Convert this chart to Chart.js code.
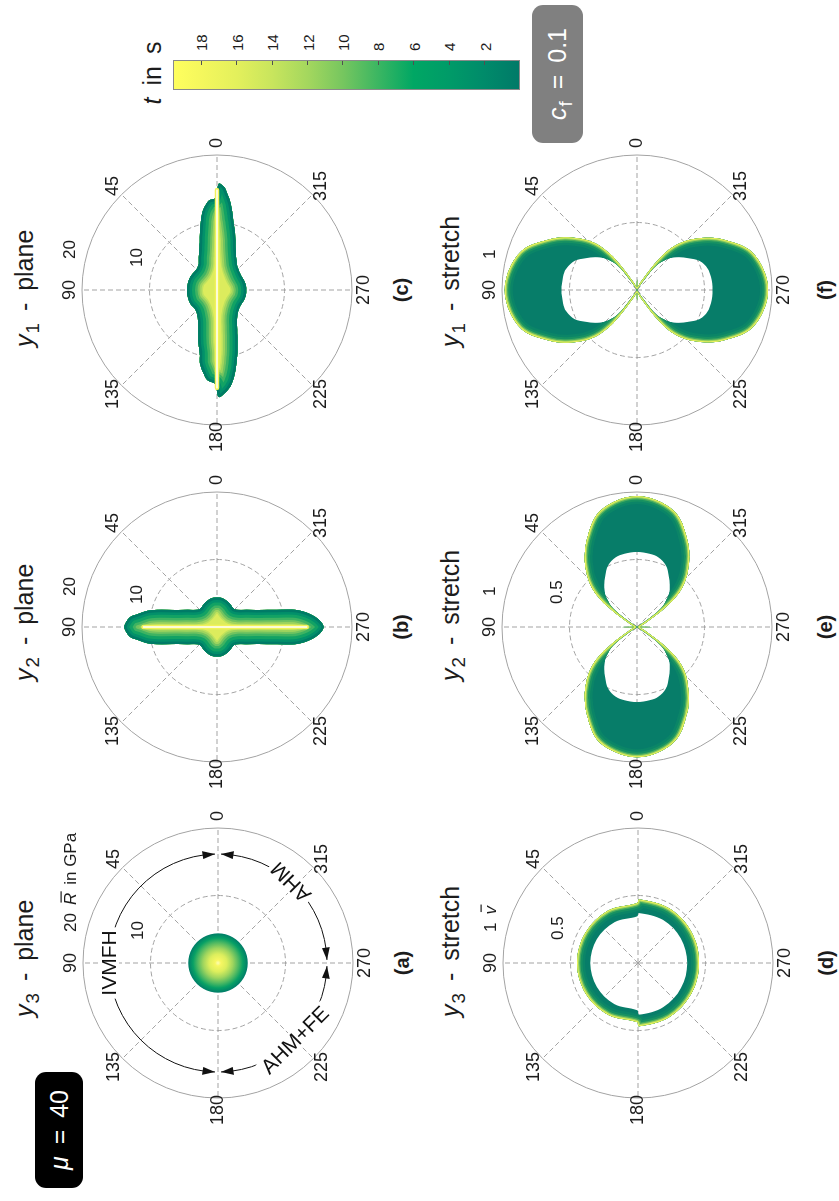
<!DOCTYPE html>
<html lang="en">
<head>
<meta charset="utf-8">
<title>Polar plots of R and v, μ = 40</title>
<script src="https://cdn.jsdelivr.net/npm/chart.js@4.4.1/dist/chart.umd.min.js"></script>
<style>
  html, body { margin: 0; padding: 0; background: #fff; }
  body { width: 839px; height: 1201px; overflow: hidden; position: relative; }
  #fig { position: absolute; left: 0; top: 0; width: 1201px; height: 839px;
         transform-origin: 0 0; transform: translate(0, 1201px) rotate(-90deg);
         font-family: "Liberation Sans", Arial, Helvetica, sans-serif; color: #1c1c1c; }
  .panel { position: absolute; width: 330px; height: 330px; }
  .panel canvas { display: block; }
  .title { position: absolute; font-size: 25px; line-height: 1; white-space: nowrap; word-spacing: 0.2em; }
  sub { font-size: 0.75em; line-height: 0; vertical-align: -0.3em; margin-left: 1px; }
  .tag { position: absolute; font-size: 20px; font-weight: bold; line-height: 1;
         transform: translate(-50%, -50%); white-space: nowrap; }
  .box { position: absolute; border-radius: 11px; color: #fff; font-size: 25px; line-height: 1;
         word-spacing: 0.2em; display: flex; align-items: center; justify-content: center; white-space: nowrap; }
  #cbar { position: absolute; box-sizing: border-box; border: 1px solid #8a8a8a; }
  .ctick { position: absolute; right: 0; width: 4px; height: 1px; background: #505050; }
  .clab { position: absolute; font-size: 15px; line-height: 1; transform: translateY(-50%); }
  #clabel { position: absolute; font-size: 25px; line-height: 1; word-spacing: 0.2em;
            transform: translate(-50%, -50%); white-space: nowrap; }
</style>
</head>
<body>
<div id="fig">
  <div class="box" style="left:13px;top:35px;width:116px;height:48px;background:#000;"><span><i>μ</i> = 40</span></div>
  <div class="box" style="left:1058px;top:532px;width:138px;height:51px;background:#808080;"><span><i>c</i><sub>f</sub> = 0.1</span></div>

  <div class="title" style="left:184px;top:12px;"><i>y</i><sub>3</sub> - plane</div>
  <div class="title" style="left:520px;top:12px;"><i>y</i><sub>2</sub> - plane</div>
  <div class="title" style="left:854px;top:12px;"><i>y</i><sub>1</sub> - plane</div>
  <div class="title" style="left:184px;top:438px;"><i>y</i><sub>3</sub> - stretch</div>
  <div class="title" style="left:520px;top:438px;"><i>y</i><sub>2</sub> - stretch</div>
  <div class="title" style="left:854px;top:438px;"><i>y</i><sub>1</sub> - stretch</div>

  <div class="panel" style="left:73px;top:53px;"><canvas id="pa" width="330" height="330"></canvas></div>
  <div class="panel" style="left:409px;top:52px;"><canvas id="pb" width="330" height="330"></canvas></div>
  <div class="panel" style="left:746px;top:52px;"><canvas id="pc" width="330" height="330"></canvas></div>
  <div class="panel" style="left:73px;top:473px;"><canvas id="pd" width="330" height="330"></canvas></div>
  <div class="panel" style="left:409px;top:472px;"><canvas id="pe" width="330" height="330"></canvas></div>
  <div class="panel" style="left:746px;top:472px;"><canvas id="pf" width="330" height="330"></canvas></div>

  <div class="tag" style="left:238px;top:402px;">(a)</div>
  <div class="tag" style="left:574px;top:401px;">(b)</div>
  <div class="tag" style="left:911px;top:401px;">(c)</div>
  <div class="tag" style="left:238px;top:826px;">(d)</div>
  <div class="tag" style="left:574px;top:825px;">(e)</div>
  <div class="tag" style="left:911px;top:825px;">(f)</div>

  <div id="clabel" style="left:1128px;top:152px;"><i>t</i> in s</div>
  <div id="cbar" style="left:1111px;top:173px;width:30px;height:347px;"></div>
</div>

<script>
// ---------- axes ----------
const angleTicks = [0, 45, 90, 135, 180, 225, 270, 315];   // degrees
const planeRings = [10, 20];                                 // R in GPa
const stretchRings = [0.5, 1];                               // v
const angleLabels = Array.from({ length: 360 }, (_, i) => String((360 - i) % 360));

// ---------- colour bar (t in s) ----------
const tMax = 19.6;
const tTicks = [2, 4, 6, 8, 10, 12, 14, 16, 18];
const tStops = [[0, '#007a68'], [2, '#008b6a'], [4, '#009b68'], [6, '#00a764'], [8, '#3bb662'],
                [10, '#76c65f'], [12, '#a4d75e'], [14, '#c8e55d'], [16, '#e3f05c'], [18, '#f4f75d'],
                [19.6, '#ffff5e']];

// ---------- curves: [angle in degrees, radius] ----------
// (a) y3 - plane, R in GPa
const y3PlaneEdge = [[0, 4.4], [30, 4.4], [60, 4.4], [90, 4.4], [120, 4.4], [150, 4.4],
                     [180, 4.4], [210, 4.4], [240, 4.4], [270, 4.4], [300, 4.4], [330, 4.4]];

// (b) y2 - plane
const y2PlaneEdge = [[0, 4.37], [10, 4.36], [21, 4.13], [30, 3.9], [43, 3.67], [52, 4.12], [60, 5.11],
  [67, 6.44], [71, 7.82], [74, 9.24], [77, 10.64], [81, 12.0], [83, 12.83], [86, 13.36], [90, 13.73],
  [94, 13.36], [97, 12.83], [99, 12.0], [103, 10.64], [106, 9.24], [109, 7.82], [113, 6.44],
  [120, 5.11], [128, 4.12], [137, 3.67], [150, 3.9], [159, 4.13], [170, 4.36], [180, 4.37],
  [190, 4.36], [201, 4.13], [210, 3.9], [223, 3.67], [232, 4.12], [240, 5.11], [247, 6.44],
  [251, 7.82], [254, 9.24], [256, 10.67], [258, 12.1], [261, 13.5], [264, 14.6], [267, 15.4],
  [270, 15.8], [273, 15.4], [276, 14.6], [279, 13.5], [282, 12.1], [284, 10.67], [286, 9.24],
  [289, 7.82], [293, 6.44], [300, 5.11], [308, 4.12], [317, 3.67], [330, 3.9], [339, 4.13], [350, 4.36]];
const y2PlaneCore = [[90, 10.9], [270, 13.3]];

// (c) y1 - plane
const y1PlaneEdge = [[1, 13.67], [5, 13.35], [7, 12.89], [10, 11.99], [13, 10.6], [18, 8.26], [22, 6.88],
  [29, 5.57], [35, 4.73], [42, 4.36], [47, 4.3], [64, 4.4], [78, 4.44], [90, 4.44], [103, 4.46],
  [117, 4.45], [134, 4.36], [148, 5.3], [156, 6.8], [161, 8.4], [165, 9.83], [167, 11.2], [171, 12.57],
  [174, 13.44], [179, 13.97], [181, 15.85], [185, 15.17], [189, 14.04], [193, 12.21], [197, 10.2],
  [201, 8.5], [207, 6.62], [217, 4.98], [233, 4.2], [253, 4.3], [270, 4.34], [286, 4.27], [305, 4.21],
  [323, 4.89], [335, 6.56], [341, 8.31], [347, 10.62], [351, 12.95], [354, 14.36], [356, 15.29],
  [359, 15.75]];
const y1PlaneCore = [[0, 14.8], [180, 14.5]];

// (d) y3 - stretch, v
const y3StretchOuter = [[1, 0.444], [30, 0.447], [60, 0.45], [90, 0.452], [120, 0.449], [150, 0.443],
  [179, 0.438], [181, 0.469], [210, 0.463], [240, 0.455], [270, 0.452], [300, 0.457], [330, 0.466],
  [359, 0.472]];
const y3StretchInner = [[1, 0.346], [30, 0.349], [60, 0.352], [90, 0.353], [120, 0.352], [150, 0.351],
  [179, 0.35], [181, 0.383], [210, 0.376], [240, 0.368], [270, 0.365], [300, 0.366], [330, 0.369],
  [359, 0.37]];

// (e) y2 - stretch
const y2StretchOuter = [[0, 0.97], [10, 0.945], [20, 0.88], [30, 0.745], [36, 0.66], [42, 0.565],
  [46, 0.5], [50, 0.42], [53, 0.34], [55, 0.27], [57, 0.2], [59, 0.14], [62, 0.09], [66, 0.06],
  [72, 0.035], [80, 0.02], [86, 0.03], [90, 0.11], [94, 0.03], [100, 0.02], [108, 0.035], [114, 0.06],
  [118, 0.09], [121, 0.14], [123, 0.2], [125, 0.27], [127, 0.34], [130, 0.42], [134, 0.5], [138, 0.565],
  [144, 0.66], [150, 0.745], [160, 0.88], [170, 0.94], [180, 0.965], [190, 0.94], [200, 0.875],
  [210, 0.74], [216, 0.655], [222, 0.56], [226, 0.5], [230, 0.42], [233, 0.34], [235, 0.27],
  [237, 0.2], [239, 0.14], [242, 0.09], [246, 0.06], [252, 0.035], [260, 0.02], [266, 0.03],
  [270, 0.11], [274, 0.03], [280, 0.02], [288, 0.035], [294, 0.06], [298, 0.09], [301, 0.14],
  [303, 0.2], [305, 0.27], [307, 0.34], [310, 0.42], [314, 0.5], [318, 0.565], [324, 0.66],
  [330, 0.745], [340, 0.88], [350, 0.945]];
const y2StretchInner = [[0, 0.556], [10, 0.55], [17, 0.54], [25, 0.505], [32, 0.445], [38, 0.395],
  [44, 0.34], [48, 0.29], [51, 0.25], [53, 0.2], [54, 0.15], [55, 0.09], [56, 0.03], [58, 0], [90, 0],
  [122, 0], [124, 0.03], [125, 0.09], [126, 0.15], [127, 0.2], [129, 0.25], [132, 0.29], [136, 0.34],
  [142, 0.395], [148, 0.445], [155, 0.505], [163, 0.54], [170, 0.55], [180, 0.556], [190, 0.55],
  [197, 0.54], [205, 0.505], [212, 0.445], [218, 0.395], [224, 0.34], [228, 0.29], [231, 0.25],
  [233, 0.2], [234, 0.15], [235, 0.09], [236, 0.03], [238, 0], [270, 0], [302, 0], [304, 0.03],
  [305, 0.09], [306, 0.15], [307, 0.2], [309, 0.25], [312, 0.29], [316, 0.34], [322, 0.395],
  [328, 0.445], [335, 0.505], [343, 0.54], [350, 0.55]];

// (f) y1 - stretch
const y1StretchOuter = [[0, 0.11], [4, 0.03], [10, 0.02], [18, 0.035], [24, 0.06], [28, 0.09],
  [31, 0.14], [33, 0.2], [35, 0.27], [37, 0.34], [40, 0.425], [44, 0.505], [48, 0.57], [54, 0.665],
  [60, 0.75], [70, 0.89], [80, 0.955], [90, 0.98], [100, 0.955], [110, 0.89], [120, 0.75], [126, 0.665],
  [132, 0.57], [136, 0.505], [140, 0.425], [143, 0.34], [145, 0.27], [147, 0.2], [149, 0.14],
  [152, 0.09], [156, 0.06], [162, 0.035], [170, 0.02], [176, 0.03], [180, 0.11], [184, 0.03],
  [190, 0.02], [198, 0.035], [204, 0.06], [208, 0.09], [211, 0.14], [213, 0.2], [215, 0.27],
  [217, 0.34], [220, 0.42], [224, 0.5], [228, 0.565], [234, 0.66], [240, 0.745], [250, 0.88],
  [260, 0.945], [270, 0.97], [280, 0.945], [290, 0.88], [300, 0.745], [306, 0.66], [312, 0.565],
  [316, 0.5], [320, 0.42], [323, 0.34], [325, 0.27], [327, 0.2], [329, 0.14], [332, 0.09],
  [336, 0.06], [342, 0.035], [350, 0.02], [356, 0.03]];
const y1StretchInner = [[0, 0], [32, 0], [34, 0.03], [35, 0.09], [36, 0.15], [37, 0.2], [39, 0.25],
  [42, 0.29], [46, 0.34], [52, 0.395], [58, 0.445], [65, 0.51], [73, 0.547], [80, 0.556], [90, 0.56],
  [100, 0.556], [107, 0.547], [115, 0.51], [122, 0.445], [128, 0.395], [134, 0.34], [138, 0.29],
  [141, 0.25], [143, 0.2], [144, 0.15], [145, 0.09], [146, 0.03], [148, 0], [180, 0], [212, 0],
  [214, 0.03], [215, 0.09], [216, 0.15], [217, 0.2], [219, 0.25], [222, 0.29], [226, 0.34],
  [232, 0.395], [238, 0.445], [245, 0.51], [253, 0.547], [260, 0.556], [270, 0.56], [280, 0.556],
  [287, 0.547], [295, 0.51], [302, 0.445], [308, 0.395], [314, 0.34], [318, 0.29], [321, 0.25],
  [323, 0.2], [324, 0.15], [325, 0.09], [326, 0.03], [328, 0]];

// (a) phase annotations
const phaseArcs = [[1.6, 178.4], [181.6, 268.4], [271.6, 358.4]];
const arrowTips = [[1.6, 1], [178.4, -1], [181.6, 1], [268.4, -1], [271.6, 1], [358.4, -1]];
const phaseNames = [['IVMFH', 90, 0], ['AHM+FE', 225, 45], ['AHM', 318, -45]];

// ---------- styling ----------
const FONT = '"Liberation Sans", Arial, sans-serif';
const INK = '#1c1c1c';
const GRID = '#a3a3a3';
const TENSION = 0.35;
// [distance from the edge in px, colour]: colour bands laid inward from the outline
const planeBands = [[16, '#bfe25d'], [14.5, '#9fd45e'], [12.5, '#72c360'], [10.5, '#3fb362'],
                    [8, '#12a264'], [5, '#02906a'], [2.5, '#007b66']];
const planeFill = '#dcec5d';
const stretchRim = [[8, '#0b8567'], [5.5, '#179162'], [3.5, '#45aa5f'], [2.2, '#9bd15d'], [1.1, '#e9f15c']];
const stretchFill = '#077d69';

Chart.defaults.font.family = FONT;

// radar index k sits at (360 - k) degrees when the scale starts at 90
function polar(pairs) {
  const arr = new Array(360).fill(null);
  for (const [a, r] of pairs) arr[(360 - a) % 360] = r;
  return arr;
}

// clip band strokes to the inside of a filled outline (or of a ring)
const bandClip = {
  id: 'bandClip',
  beforeDatasetDraw(chart, args) {
    const ds = chart.data.datasets[args.index];
    if (!ds.clipTo) return;
    const ctx = chart.ctx;
    ctx.save();
    ctx.beginPath();
    ds.clipTo.forEach(i => chart.getDatasetMeta(i).dataset.path(ctx));
    ctx.clip(ds.clipTo.length > 1 ? 'evenodd' : 'nonzero');
  },
  afterDatasetDraw(chart, args) {
    if (chart.data.datasets[args.index].clipTo) chart.ctx.restore();
  }
};

// angle labels and ring labels
function ringText(outerParts) {
  return {
    id: 'ringText',
    beforeDatasetsDraw(chart) {
      const s = chart.scales.r, ctx = chart.ctx;
      const rings = s.ticks.map(t => t.value).filter(v => v > 0);
      ctx.save();
      ctx.fillStyle = INK;
      ctx.textBaseline = 'middle';
      ctx.textAlign = 'center';
      ctx.font = '18px ' + FONT;
      for (const a of angleTicks) {
        const p = s.getPointPosition((360 - a) % 360, 147);
        ctx.fillText(String(a), p.x, p.y);
      }
      ctx.textAlign = 'left';
      rings.forEach((v, i) => {
        const outer = i === rings.length - 1;
        const y = s.yCenter - s.getDistanceFromCenterForValue(v) - 12;
        let x = s.xCenter + (outer ? 31 : 23);
        const parts = outer && outerParts ? outerParts(String(v)) : [{ t: String(v) }];
        for (const p of parts) {
          ctx.font = (p.it ? 'italic ' : '') + '17px ' + FONT;
          x += p.gap || 0;
          ctx.fillText(p.t, x, y);
          const w = ctx.measureText(p.t).width;
          if (p.bar) ctx.fillRect(x + 2.5, y - 10.5, w - 1, 1.2);
          x += w;
        }
      });
      ctx.restore();
    }
  };
}

// arcs, arrowheads and phase names in panel (a)
const phaseAnnotation = {
  id: 'phaseAnnotation',
  afterDatasetsDraw(chart) {
    const s = chart.scales.r, ctx = chart.ctx;
    const cx = s.xCenter, cy = s.yCenter, R = 109;
    const rad = d => d * Math.PI / 180;
    const at = (deg, r) => [cx + r * Math.cos(rad(deg)), cy - r * Math.sin(rad(deg))];
    ctx.save();
    ctx.strokeStyle = '#111';
    ctx.fillStyle = '#111';
    ctx.lineWidth = 1;
    for (const [a, b] of phaseArcs) {
      ctx.beginPath();
      ctx.arc(cx, cy, R, -rad(a), -rad(b), true);
      ctx.stroke();
    }
    for (const [tip, dir] of arrowTips) {
      const base = tip + dir * 6.5;
      const t = at(tip, R), b1 = at(base, R + 4), b2 = at(base, R - 4);
      ctx.beginPath();
      ctx.moveTo(t[0], t[1]);
      ctx.lineTo(b1[0], b1[1]);
      ctx.lineTo(b2[0], b2[1]);
      ctx.closePath();
      ctx.fill();
    }
    ctx.font = '21px ' + FONT;
    ctx.textAlign = 'center';
    ctx.textBaseline = 'middle';
    for (const [txt, deg, rot] of phaseNames) {
      const [x, y] = at(deg, R);
      ctx.save();
      ctx.translate(x, y);
      ctx.rotate(rad(rot));
      const w = ctx.measureText(txt).width;
      ctx.fillStyle = '#fff';
      ctx.fillRect(-w / 2 - 3, -10, w + 6, 20);
      ctx.fillStyle = '#111';
      ctx.fillText(txt, 0, 1);
      ctx.restore();
    }
    ctx.restore();
  }
};

function makeChart(id, rings, datasets, plugins) {
  const max = rings[rings.length - 1];
  return new Chart(document.getElementById(id), {
    type: 'radar',
    data: { labels: angleLabels, datasets },
    options: {
      responsive: false,
      animation: false,
      events: [],
      layout: { padding: 30 },
      elements: { point: { radius: 0, hoverRadius: 0 } },
      plugins: { legend: { display: false }, tooltip: { enabled: false } },
      scales: {
        r: {
          min: 0, max, startAngle: 90,
          ticks: { display: false, stepSize: rings[0] },
          pointLabels: { display: false },
          grid: { circular: true, color: GRID, lineWidth: 1 },
          border: { dash: c => (c.tick && c.tick.value < max ? [5, 3] : []) },
          angleLines: { color: GRID, lineWidth: c => (c.index % 45 === 0 ? 1 : 0), borderDash: [5, 3] }
        }
      }
    },
    plugins: [bandClip].concat(plugins)
  });
}

function planeSets(edge, core) {
  const data = polar(edge);
  const sets = [{ data, fill: 'origin', backgroundColor: planeFill, borderWidth: 0,
                  tension: TENSION, spanGaps: true, order: 50 }];
  planeBands.forEach(([d, color], i) => sets.push({
    data, fill: false, borderColor: color, borderWidth: 2 * d, borderJoinStyle: 'round',
    tension: TENSION, spanGaps: true, clipTo: [0], order: 40 - i }));
  const c = polar(core);
  sets.push({ data: c, fill: false, borderColor: '#f2f25a', borderWidth: 4.5, borderJoinStyle: 'round',
              tension: 0, spanGaps: true, order: 2 });
  sets.push({ data: c, fill: false, borderColor: '#ffffff', borderWidth: 1.5, borderJoinStyle: 'round',
              tension: 0, spanGaps: true, order: 1 });
  return sets;
}

function stretchSets(outer, inner) {
  const o = polar(outer), h = polar(inner);
  const sets = [
    { data: o, fill: 1, backgroundColor: stretchFill, borderWidth: 0, tension: TENSION, spanGaps: true, order: 50 },
    { data: h, fill: false, borderWidth: 0, tension: TENSION, spanGaps: true, order: 51 }
  ];
  stretchRim.forEach(([d, color], i) => sets.push({
    data: o, fill: false, borderColor: color, borderWidth: 2 * d, borderJoinStyle: 'round',
    tension: TENSION, spanGaps: true, clipTo: [0, 1], order: 40 - i }));
  return sets;
}

// (a): radial colour from the edge (t = 0) to the centre (t = 19)
const y3Radius = Math.max(...y3PlaneEdge.map(p => p[1]));
const discGradient = c => {
  const s = c.chart.scales.r;
  if (!s || !isFinite(s.xCenter)) return '#00a764';
  const g = c.chart.ctx.createRadialGradient(s.xCenter, s.yCenter, 0, s.xCenter, s.yCenter,
                                             s.getDistanceFromCenterForValue(y3Radius));
  g.addColorStop(0, '#fdfdb4');
  g.addColorStop(0.1, '#f7f762');
  g.addColorStop(0.3, '#dcee5d');
  g.addColorStop(0.5, '#9fd55e');
  g.addColorStop(0.68, '#52ba62');
  g.addColorStop(0.84, '#07a065');
  g.addColorStop(1, '#007c68');
  return g;
};

makeChart('pa', planeRings, [{ data: polar(y3PlaneEdge), fill: 'origin', backgroundColor: discGradient,
  borderWidth: 0, tension: TENSION, spanGaps: true }],
  [ringText(v => [{ t: v }, { t: 'R', it: true, bar: true, gap: 8 }, { t: 'in GPa', gap: 8 }]), phaseAnnotation]);
makeChart('pb', planeRings, planeSets(y2PlaneEdge, y2PlaneCore), [ringText(null)]);
makeChart('pc', planeRings, planeSets(y1PlaneEdge, y1PlaneCore), [ringText(null)]);
makeChart('pd', stretchRings, stretchSets(y3StretchOuter, y3StretchInner),
  [ringText(v => [{ t: v }, { t: 'v', it: true, bar: true, gap: 8 }])]);
makeChart('pe', stretchRings, stretchSets(y2StretchOuter, y2StretchInner), [ringText(null)]);
makeChart('pf', stretchRings, stretchSets(y1StretchOuter, y1StretchInner), [ringText(null)]);

// ---------- colour bar ----------
(function () {
  const fig = document.getElementById('fig');
  const bar = document.getElementById('cbar');
  const top = 173, h = 347, labelX = 1150;
  bar.style.background = 'linear-gradient(to top, ' +
    tStops.map(([t, c]) => c + ' ' + (t / tMax * 100).toFixed(2) + '%').join(', ') + ')';
  for (const t of tTicks) {
    const y = h * (1 - t / tMax);
    const tick = document.createElement('div');
    tick.className = 'ctick';
    tick.style.top = (y - 1.5) + 'px';
    bar.appendChild(tick);
    const lab = document.createElement('div');
    lab.className = 'clab';
    lab.style.left = labelX + 'px';
    lab.style.top = (top + y) + 'px';
    lab.textContent = String(t);
    fig.appendChild(lab);
  }
})();
</script>
</body>
</html>
